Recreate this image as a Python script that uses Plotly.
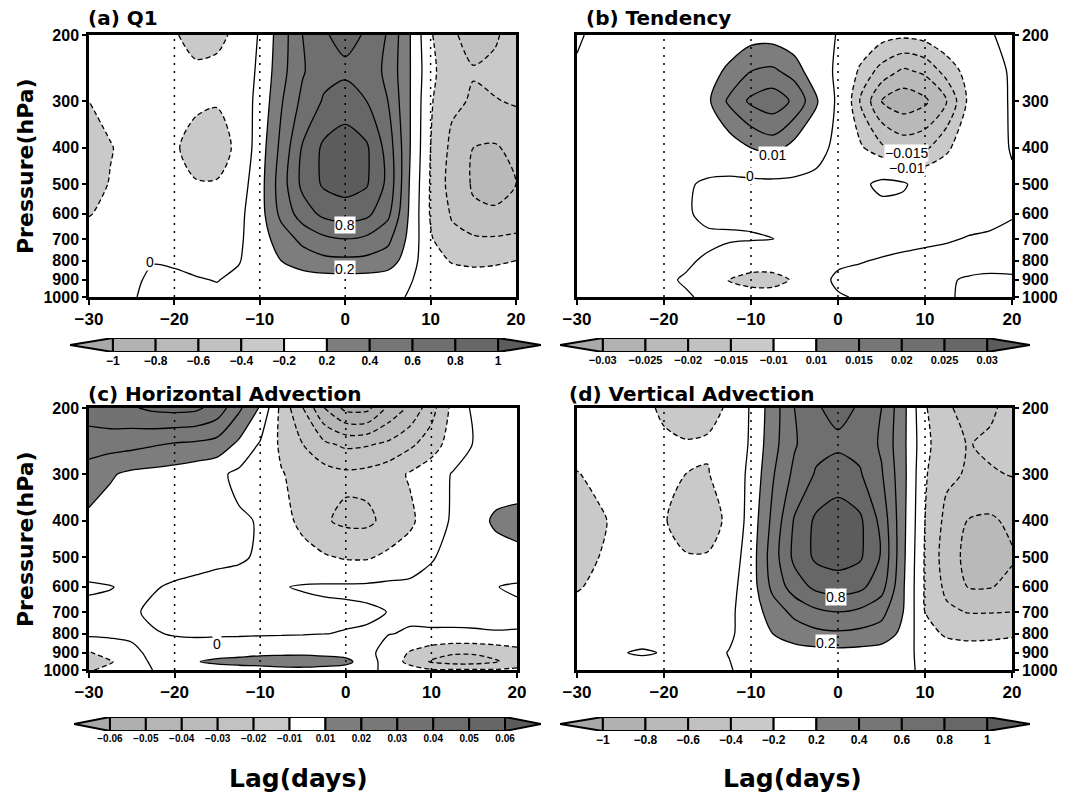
import numpy as np
import plotly.graph_objects as go

# ---------------- data ----------------
lags = [-30, -27.5, -25, -22.5, -20, -17.5, -15, -12.5, -10, -7.5, -5,
        -2.5, 0, 2.5, 5, 7.5, 10, 12.5, 15, 17.5, 20]
plev = [1000, 900, 800, 700, 600, 500, 400, 300, 250, 200]
plev_hadv = [1000, 950, 900, 800, 700, 600, 500, 400, 300, 250, 200]

# (a) Q1, rows follow plev
q1 = [
    [-0.05, -0.03, -0.01, 0.03, 0.04, 0.04, 0.03, 0.05, 0.07, 0.08, 0.09, 0.1, 0.1, 0.1, 0.08, -0.02, -0.08, -0.1, -0.1, -0.1, -0.1],
    [-0.05, -0.04, -0.02, 0.02, 0.03, 0.01, -0.005, 0.03, 0.06, 0.08, 0.1, 0.12, 0.13, 0.12, 0.1, 0.02, -0.1, -0.14, -0.16, -0.17, -0.17],
    [-0.08, -0.05, -0.02, -0.005, -0.02, -0.04, -0.05, -0.01, 0.08, 0.2, 0.3, 0.35, 0.36, 0.35, 0.3, 0.1, -0.15, -0.21, -0.22, -0.21, -0.2],
    [-0.12, -0.08, -0.06, -0.05, -0.07, -0.09, -0.09, -0.03, 0.1, 0.3, 0.45, 0.56, 0.6, 0.56, 0.45, 0.15, -0.18, -0.35, -0.37, -0.38, -0.37],
    [-0.21, -0.15, -0.1, -0.08, -0.1, -0.12, -0.12, -0.05, 0.12, 0.45, 0.7, 0.85, 0.9, 0.85, 0.65, 0.18, -0.22, -0.42, -0.57, -0.58, -0.5],
    [-0.27, -0.19, -0.12, -0.1, -0.15, -0.19, -0.19, -0.1, 0.12, 0.5, 0.85, 1.03, 1.08, 1.02, 0.75, 0.2, -0.22, -0.48, -0.62, -0.65, -0.6],
    [-0.3, -0.21, -0.14, -0.12, -0.18, -0.26, -0.26, -0.17, 0.1, 0.45, 0.82, 1.04, 1.1, 1.03, 0.72, 0.22, -0.2, -0.45, -0.6, -0.62, -0.55],
    [-0.2, -0.14, -0.1, -0.08, -0.12, -0.17, -0.19, -0.1, 0.05, 0.38, 0.65, 0.82, 0.9, 0.8, 0.6, 0.22, -0.18, -0.36, -0.42, -0.41, -0.38],
    [-0.12, -0.1, -0.08, -0.1, -0.16, -0.18, -0.17, -0.1, 0.03, 0.33, 0.58, 0.74, 0.76, 0.72, 0.55, 0.22, -0.15, -0.33, -0.39, -0.35, -0.3],
    [-0.08, -0.08, -0.1, -0.14, -0.19, -0.24, -0.23, -0.17, 0.02, 0.3, 0.6, 0.78, 0.86, 0.78, 0.58, 0.22, -0.18, -0.38, -0.45, -0.43, -0.3],
]

# (b) Tendency, rows follow plev
tendency = [
    [0.002, 0.002, 0.0015, 0.001, 0.0008, 0.0003, -0.0005, -0.004, -0.006, -0.006, -0.004, -0.002, -0.0005, 0.0005, 0.001, 0.001, 0.0008, 0.0003, -0.0005, -0.001, -0.001],
    [0.002, 0.002, 0.0015, 0.001, 0.0005, -0.0003, -0.005, -0.0105, -0.013, -0.013, -0.009, -0.002, 0.001, 0.0015, 0.0015, 0.0015, 0.001, 0.0005, -0.0005, -0.001, -0.0008],
    [0.002, 0.002, 0.002, 0.0015, 0.001, 0.0005, -0.0005, -0.003, -0.005, -0.005, -0.003, -0.0015, -0.001, -0.0003, 0.0004, 0.001, 0.0015, 0.002, 0.002, 0.002, 0.002],
    [0.002, 0.002, 0.002, 0.002, 0.0015, 0.001, 0.0008, 0.0006, 0.0004, 0.00005, -0.001, -0.002, -0.002, -0.002, -0.002, -0.0015, -0.001, -0.0005, 0.0003, 0.0005, 0.001],
    [0.002, 0.002, 0.002, 0.002, 0.0015, 0.0005, -0.001, -0.001, -0.001, -0.0015, -0.002, -0.003, -0.003, -0.003, -0.003, -0.003, -0.003, -0.002, -0.002, -0.001, -0.0003],
    [0.002, 0.002, 0.002, 0.002, 0.002, 0.0008, -0.001, -0.002, -0.002, -0.002, -0.002, -0.003, -0.005, -0.002, 0.002, 0.001, -0.004, -0.005, -0.004, -0.002, -0.001],
    [0.002, 0.002, 0.003, 0.003, 0.003, 0.004, 0.005, 0.007, 0.01, 0.012, 0.008, 0.004, -0.003, -0.009, -0.014, -0.017, -0.016, -0.011, -0.006, -0.003, 0.0005],
    [0.001, 0.002, 0.003, 0.003, 0.004, 0.006, 0.009, 0.016, 0.021, 0.023, 0.019, 0.011, -0.002, -0.015, -0.025, -0.028, -0.026, -0.02, -0.009, -0.004, 0.001],
    [0.001, 0.002, 0.003, 0.003, 0.004, 0.006, 0.008, 0.011, 0.015, 0.016, 0.013, 0.006, -0.002, -0.011, -0.017, -0.021, -0.019, -0.013, -0.008, -0.003, 0.001],
    [-0.001, 0.002, 0.003, 0.003, 0.004, 0.005, 0.006, 0.007, 0.008, 0.008, 0.006, 0.004, -0.0005, -0.005, -0.008, -0.009, -0.008, -0.006, -0.004, -0.0005, 0.002],
]

# (c) Horizontal advection, rows follow plev_hadv
hadv = [
    [-0.011, -0.007, -0.003, 0.0001, 0.002, 0.003, 0.005, 0.006, 0.006, 0.007, 0.007, 0.006, 0.005, 0.002, -0.002, -0.006, -0.009, -0.009, -0.009, -0.009, -0.008],
    [-0.013, -0.011, -0.003, 0.001, 0.004, 0.0095, 0.012, 0.013, 0.014, 0.015, 0.016, 0.015, 0.013, 0.004, -0.004, -0.013, -0.021, -0.024, -0.024, -0.021, -0.016],
    [-0.011, -0.005, -0.001, 0.001, 0.002, 0.004, 0.006, 0.007, 0.008, 0.008, 0.008, 0.007, 0.006, 0.002, -0.003, -0.011, -0.016, -0.019, -0.019, -0.017, -0.014],
    [0.002, 0.0015, 0.0008, 0.0003, -0.0003, -0.001, -0.0012, -0.0012, -0.001, -0.0008, -0.0005, -0.0001, 0.0003, 0.0006, 0.0002, -0.0005, -0.0006, -0.0006, -0.0005, -0.0003, -0.0004],
    [0.002, 0.0015, 0.0005, -0.0007, -0.0015, -0.002, -0.002, -0.002, -0.002, -0.002, -0.002, -0.0015, -0.0012, -0.0008, 0.0001, 0.001, 0.0015, 0.0015, 0.0015, 0.0015, 0.0015],
    [-0.001, -0.0002, 0.001, 0.0003, -0.0005, -0.001, -0.0015, -0.0015, -0.001, -0.0003, 0.0005, 0.001, 0.0012, 0.0015, 0.002, 0.002, 0.002, 0.002, 0.001, 0.0002, -0.001],
    [0.005, 0.004, 0.003, 0.002, 0.002, 0.0015, 0.001, 0.0005, -0.0005, -0.003, -0.006, -0.009, -0.011, -0.011, -0.008, -0.005, -0.0005, 0.002, 0.003, 0.005, 0.007],
    [0.008, 0.006, 0.004, 0.003, 0.003, 0.002, 0.0015, 0.001, -0.0005, -0.006, -0.013, -0.019, -0.022, -0.022, -0.017, -0.012, -0.004, 0.001, 0.005, 0.012, 0.014],
    [0.015, 0.011, 0.008, 0.007, 0.006, 0.004, 0.002, -0.002, -0.004, -0.0095, -0.013, -0.016, -0.018, -0.017, -0.014, -0.009, -0.004, 0.0005, 0.002, 0.003, 0.003],
    [0.025, 0.024, 0.023, 0.021, 0.019, 0.018, 0.016, 0.008, -0.001, -0.012, -0.02, -0.028, -0.032, -0.031, -0.028, -0.022, -0.015, -0.005, 0.0005, 0.002, 0.002],
    [0.035, 0.038, 0.039, 0.042, 0.043, 0.042, 0.036, 0.022, 0.009, -0.013, -0.03, -0.05, -0.063, -0.063, -0.048, -0.038, -0.024, -0.007, 0.002, 0.003, 0.003],
]

# (d) Vertical advection, rows follow plev
vadv = [
    [-0.06, -0.05, -0.05, -0.05, -0.05, -0.05, -0.04, -0.01, 0.05, 0.08, 0.09, 0.1, 0.1, 0.1, 0.09, 0.06, -0.05, -0.08, -0.08, -0.08, -0.08],
    [-0.06, -0.05, -0.005, 0.01, -0.005, -0.04, -0.04, 0.005, 0.06, 0.09, 0.11, 0.13, 0.14, 0.13, 0.11, 0.08, -0.08, -0.13, -0.15, -0.16, -0.16],
    [-0.1, -0.07, -0.05, -0.04, -0.05, -0.06, -0.06, -0.02, 0.06, 0.2, 0.3, 0.35, 0.37, 0.35, 0.31, 0.15, -0.15, -0.22, -0.23, -0.22, -0.21],
    [-0.12, -0.09, -0.07, -0.06, -0.07, -0.08, -0.08, -0.03, 0.08, 0.3, 0.45, 0.56, 0.6, 0.56, 0.46, 0.2, -0.2, -0.36, -0.41, -0.41, -0.4],
    [-0.22, -0.15, -0.1, -0.08, -0.1, -0.12, -0.12, -0.06, 0.1, 0.45, 0.7, 0.85, 0.9, 0.85, 0.68, 0.22, -0.22, -0.45, -0.61, -0.61, -0.55],
    [-0.27, -0.2, -0.13, -0.11, -0.16, -0.19, -0.19, -0.11, 0.1, 0.5, 0.85, 1.04, 1.08, 1.03, 0.78, 0.24, -0.22, -0.5, -0.66, -0.67, -0.62],
    [-0.3, -0.23, -0.15, -0.13, -0.19, -0.26, -0.26, -0.17, 0.08, 0.45, 0.82, 1.04, 1.1, 1.04, 0.74, 0.25, -0.2, -0.46, -0.61, -0.63, -0.56],
    [-0.21, -0.15, -0.1, -0.09, -0.13, -0.2, -0.21, -0.11, 0.04, 0.38, 0.65, 0.82, 0.9, 0.82, 0.62, 0.26, -0.18, -0.36, -0.42, -0.42, -0.39],
    [-0.12, -0.1, -0.08, -0.12, -0.18, -0.19, -0.18, -0.12, 0.02, 0.33, 0.58, 0.74, 0.76, 0.74, 0.57, 0.25, -0.15, -0.33, -0.41, -0.36, -0.3],
    [-0.08, -0.08, -0.11, -0.17, -0.22, -0.26, -0.25, -0.18, 0.02, 0.3, 0.6, 0.78, 0.86, 0.78, 0.6, 0.26, -0.18, -0.38, -0.45, -0.44, -0.32],
]

# shading levels (colour bar boundaries)
shade_q1 = [-1, -0.8, -0.6, -0.4, -0.2, 0.2, 0.4, 0.6, 0.8, 1]
shade_tend = [-0.03, -0.025, -0.02, -0.015, -0.01, 0.01, 0.015, 0.02, 0.025, 0.03]
shade_hadv = [-0.06, -0.05, -0.04, -0.03, -0.02, -0.01, 0.01, 0.02, 0.03, 0.04, 0.05, 0.06]
shade_vadv = [-1, -0.8, -0.6, -0.4, -0.2, 0.2, 0.4, 0.6, 0.8, 1]

lag_ticks = [-30, -20, -10, 0, 10, 20]
p_ticks = [200, 300, 400, 500, 600, 700, 800, 900, 1000]

# contour labels: (text, lag, pressure)
labels_q1 = [("0", -22.9, 808), ("0.8", 0, 644), ("0.2", 0, 842)]
labels_tend = [("0.01", -7.5, 417), ("0", -10.1, 477), ("−0.015", 7.9, 412), ("−0.01", 7.9, 452)]
labels_hadv = [("0", -15.1, 854)]
labels_vadv = [("0.8", -0.2, 640), ("0.2", -1.4, 849)]

# ---------------- styles ----------------
neg_tri = "#a9a9a9"
pos_tri = "#5c5c5c"
neg_boxes4 = ["#b1b1b1", "#b9b9b9", "#c1c1c1", "#c9c9c9"]
pos_boxes4 = ["#7d7d7d", "#767676", "#6f6f6f", "#676767"]
neg_boxes5 = ["#afafaf", "#b5b5b5", "#bbbbbb", "#c2c2c2", "#c9c9c9"]
pos_boxes5 = ["#7d7d7d", "#787878", "#727272", "#6c6c6c", "#666666"]

W, H = 1067, 800
XTICKFONT = dict(family="Liberation Sans", size=17, color="black", weight="bold")
YTICKFONT = dict(family="Liberation Sans", size=16, color="black", weight="bold")
TITLEFONT = dict(family="DejaVu Sans", size=20, color="black", weight="bold")


def xd(a, b):
    return [a / W, b / W]


def yd(top, bot):
    return [1 - bot / H, 1 - top / H]


def fmt(v):
    return f"{v:g}".replace("-", "−")


def band_color(v, levels, boxes):
    if v < levels[0]:
        return neg_tri
    if v > levels[-1]:
        return pos_tri
    for i in range(len(levels) - 1):
        if levels[i] <= v <= levels[i + 1]:
            return boxes[i]
    return "#ffffff"


panels = [
    dict(z=q1, p=plev, lev=shade_q1, negb=neg_boxes4, posb=pos_boxes4, title="(a) Q1",
         box=(89, 516, 35, 297), cb=(70, 541, 338, 352), side="left", labels=labels_q1,
         tpos=(86, 18), cbfs=12),
    dict(z=tendency, p=plev, lev=shade_tend, negb=neg_boxes4, posb=pos_boxes4, title="(b) Tendency",
         box=(577, 1012, 35, 297), cb=(560, 1030, 338, 352), side="right", labels=labels_tend,
         tpos=(584, 18), cbfs=11),
    dict(z=hadv, p=plev_hadv, lev=shade_hadv, negb=neg_boxes5, posb=pos_boxes5,
         title="(c) Horizontal Advection",
         box=(89, 517, 408, 670), cb=(74, 541, 717, 731), side="left", labels=labels_hadv,
         tpos=(86, 394), cbfs=10),
    dict(z=vadv, p=plev, lev=shade_vadv, negb=neg_boxes4, posb=pos_boxes4,
         title="(d) Vertical Advection",
         box=(577, 1012, 408, 670), cb=(560, 1030, 717, 731), side="right", labels=labels_vadv,
         tpos=(567, 394), cbfs=12),
]

fig = go.Figure()
layout = {}
shapes = []
annotations = []

for i, pn in enumerate(panels):
    k = i + 1
    xn = "x" if k == 1 else f"x{k}"
    yn = "y" if k == 1 else f"y{k}"
    xk = "xaxis" if k == 1 else f"xaxis{k}"
    yk = "yaxis" if k == 1 else f"yaxis{k}"
    lev = pn["lev"]
    boxes = pn["negb"] + ["#ffffff"] + pn["posb"]
    step = round(lev[1] - lev[0], 10)
    start, end = lev[0], lev[-1]
    nc = int(np.floor((end + step / 1e6 - start) / step)) + 1
    cs = []
    for j in range(nc + 1):
        v = start - step / 2 + j * step
        col = band_color(v, lev, boxes)
        cs.append([max(0.0, (j - 0.5) / nc), col])
        cs.append([min(1.0, (j + 0.5) / nc), col])

    nneg = len(pn["negb"])
    fig.add_trace(go.Contour(
        x=lags, y=pn["p"], z=pn["z"], xaxis=xn, yaxis=yn,
        autocontour=False,
        contours=dict(start=start, end=end, size=step, coloring="fill", showlines=False),
        colorscale=cs, showscale=False, line=dict(width=0, smoothing=0.8), hoverinfo="skip"))
    # negative (dashed) contour lines
    fig.add_trace(go.Contour(
        x=lags, y=pn["p"], z=pn["z"], xaxis=xn, yaxis=yn, autocontour=False,
        contours=dict(start=lev[0], end=lev[nneg], size=step, coloring="none"),
        line=dict(color="black", width=1.3, dash="5px,3px", smoothing=0.8),
        showscale=False, hoverinfo="skip"))
    # zero line
    fig.add_trace(go.Contour(
        x=lags, y=pn["p"], z=pn["z"], xaxis=xn, yaxis=yn, autocontour=False,
        contours=dict(start=0, end=step / 2, size=step, coloring="none"),
        line=dict(color="black", width=1.3, smoothing=0.8),
        showscale=False, hoverinfo="skip"))
    # positive lines
    fig.add_trace(go.Contour(
        x=lags, y=pn["p"], z=pn["z"], xaxis=xn, yaxis=yn, autocontour=False,
        contours=dict(start=lev[nneg + 1], end=lev[-1], size=step, coloring="none"),
        line=dict(color="black", width=1.3, smoothing=0.8),
        showscale=False, hoverinfo="skip"))

    x0, x1, top, bot = pn["box"]
    layout[xk] = dict(domain=xd(x0, x1), range=[lags[0], lags[-1]], tickvals=lag_ticks,
                      ticktext=[fmt(t) for t in lag_ticks],
                      ticks="outside", ticklen=5, tickwidth=2, tickcolor="black",
                      showline=True, linewidth=2.5, linecolor="black", mirror=True,
                      showgrid=False, zeroline=False, tickfont=XTICKFONT, automargin=False,
                      layer="above traces", anchor=yn, fixedrange=True)
    layout[yk] = dict(domain=yd(top, bot), type="log",
                      range=[np.log10(p_ticks[-1]), np.log10(p_ticks[0])],
                      tickvals=p_ticks, ticktext=[str(t) for t in p_ticks],
                      side=pn["side"], ticks="outside", ticklen=4, tickwidth=2, tickcolor="black",
                      showline=True, linewidth=2.5, linecolor="black", mirror=True,
                      showgrid=False, zeroline=False, tickfont=YTICKFONT, automargin=False,
                      layer="above traces", anchor=xn, fixedrange=True)

    # grid lines
    for t in lag_ticks[1:-1]:
        shapes.append(dict(type="line", xref=xn, yref=f"{yn} domain", x0=t, x1=t, y0=0, y1=1,
                           line=dict(color="black", width=1.5, dash="2px,6px"), layer="above"))
    for p in p_ticks[1:-1]:
        shapes.append(dict(type="line", xref=f"{xn} domain", yref=yn, x0=0, x1=1,
                           y0=np.log10(p), y1=np.log10(p),
                           line=dict(color="#b4b4b4", width=1, dash="4px,7px"), layer="above"))

    # contour labels
    for txt, lg, p in pn["labels"]:
        annotations.append(dict(x=lg, y=np.log10(p), xref=xn, yref=yn, text=txt, showarrow=False,
                                xanchor="center", yanchor="middle",
                                font=dict(family="Liberation Sans", size=14, color="black"),
                                bgcolor="white", borderpad=0))

    # panel title
    tx, ty = pn["tpos"]
    annotations.append(dict(x=tx / W, y=1 - ty / H, xref="paper", yref="paper", text=pn["title"],
                            showarrow=False, xanchor="left", yanchor="middle", font=TITLEFONT))

    # ---- colour bar on its own axes ----
    kc = k + 4
    cxn, cyn = f"x{kc}", f"y{kc}"
    n = len(lev) - 1
    cx0, cx1, ctop, cbot = pn["cb"]
    layout[f"xaxis{kc}"] = dict(domain=xd(cx0, cx1), range=[-1, n + 1], tickvals=list(range(n + 1)),
                                ticktext=[fmt(v) for v in lev], ticks="", showline=False,
                                showgrid=False, zeroline=False, anchor=cyn, fixedrange=True,
                                automargin=False,
                                tickfont=dict(family="Liberation Sans", size=pn["cbfs"], color="black",
                                              weight="bold"))
    layout[f"yaxis{kc}"] = dict(domain=yd(ctop, cbot), range=[-0.5, 0.5], visible=False,
                                anchor=cxn, fixedrange=True, automargin=False)
    fig.add_trace(go.Bar(x=[1] * n, base=list(range(n)), y=[0] * n, orientation="h", width=1,
                         xaxis=cxn, yaxis=cyn,
                         marker=dict(color=boxes, line=dict(color="black", width=2)),
                         hoverinfo="skip", showlegend=False))
    fig.add_trace(go.Scatter(x=[0, -1, 0, 0], y=[-0.5, 0, 0.5, -0.5], mode="lines", fill="toself",
                             fillcolor=neg_tri, line=dict(color="black", width=2),
                             xaxis=cxn, yaxis=cyn, hoverinfo="skip", showlegend=False))
    fig.add_trace(go.Scatter(x=[n, n + 1, n, n], y=[-0.5, 0, 0.5, -0.5], mode="lines", fill="toself",
                             fillcolor=pos_tri, line=dict(color="black", width=2),
                             xaxis=cxn, yaxis=cyn, hoverinfo="skip", showlegend=False))

# axis titles
for yc in (166, 539):
    annotations.append(dict(x=25 / W, y=1 - yc / H, xref="paper", yref="paper", text="Pressure(hPa)",
                            textangle=-90, showarrow=False, xanchor="center", yanchor="middle",
                            font=dict(family="DejaVu Sans", size=22, color="black", weight="bold")))
for xc in (298, 792):
    annotations.append(dict(x=xc / W, y=1 - 778 / H, xref="paper", yref="paper", text="Lag(days)",
                            showarrow=False, xanchor="center", yanchor="middle",
                            font=dict(family="DejaVu Sans", size=25, color="black", weight="bold")))

fig.update_layout(template="none", width=W, height=H,
                  margin=dict(l=0, r=0, t=0, b=0, pad=0, autoexpand=False), autosize=False,
                  paper_bgcolor="white", plot_bgcolor="white", showlegend=False,
                  shapes=shapes, annotations=annotations, barmode="overlay", **layout)

fig.write_html("out.html")
